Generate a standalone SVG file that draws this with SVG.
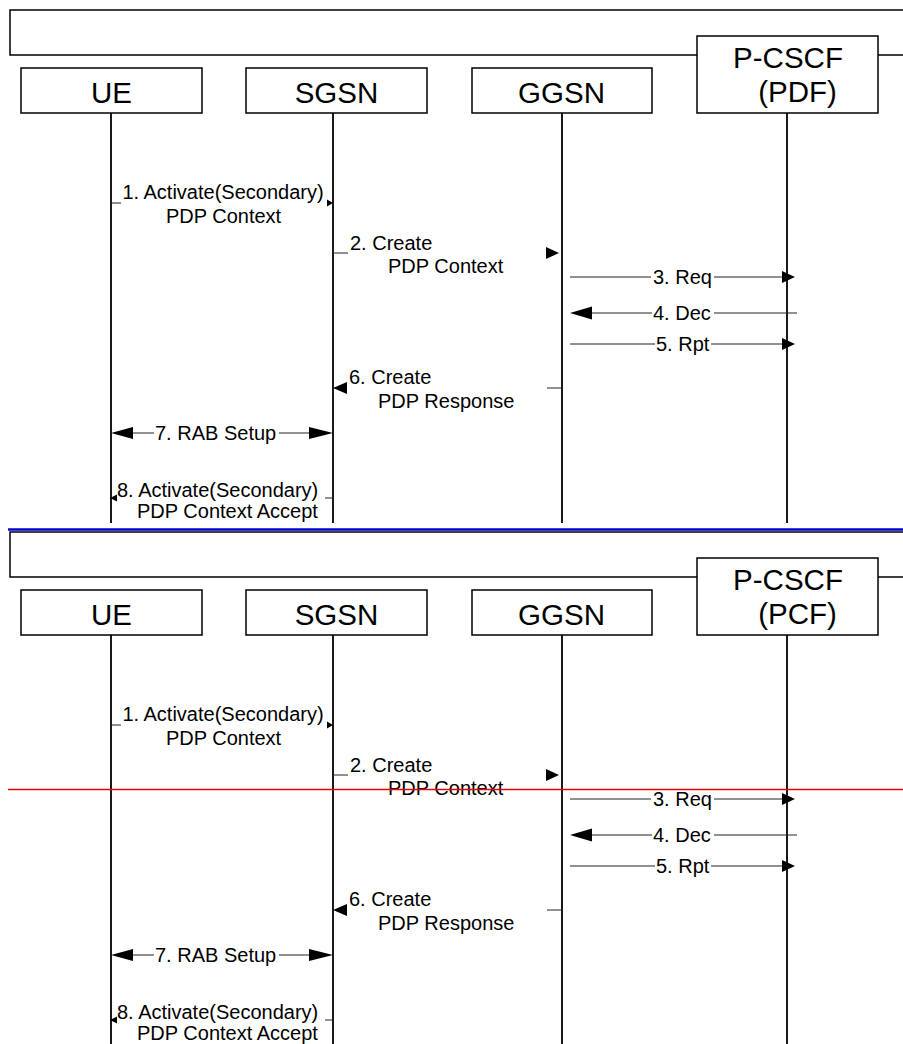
<svg xmlns="http://www.w3.org/2000/svg" width="903" height="1044" viewBox="0 0 903 1044">
<style>
.box{fill:#fff;stroke:#000;stroke-width:1.5}
.frame{fill:none;stroke:#000;stroke-width:1.5}
.life{stroke:#000;stroke-width:1.8}
.msg{stroke:#222;stroke-width:1;fill:none}
.ah{fill:#000}
.nt{font-family:"Liberation Sans",Arial,sans-serif;font-size:29.5px;fill:#000}
.lt{font-family:"Liberation Sans",Arial,sans-serif;font-size:20px;fill:#000}
</style>
<rect width="903" height="1044" fill="#fff"/>
<g id="top">
  <path class="frame" d="M903,10 H10 V55 H903"/>
  <g id="lifelines1">
    <line class="life" x1="111" y1="113" x2="111" y2="523"/>
    <line class="life" x1="333" y1="113" x2="333" y2="523"/>
    <line class="life" x1="562" y1="113" x2="562" y2="523"/>
    <line class="life" x1="787" y1="113" x2="787" y2="523"/>
  </g>
  <g id="ue1"><rect class="box" x="21" y="68" width="181" height="45"/><text class="nt" x="111.5" y="103" text-anchor="middle">UE</text></g>
  <g id="sgsn1"><rect class="box" x="246" y="68" width="181" height="45"/><text class="nt" x="336.5" y="103" text-anchor="middle">SGSN</text></g>
  <g id="ggsn1"><rect class="box" x="472" y="68" width="180" height="45"/><text class="nt" x="561.5" y="103" text-anchor="middle">GGSN</text></g>
  <g id="pcscf1"><rect class="box" x="697" y="36" width="181" height="77"/><text class="nt" x="788" y="68" text-anchor="middle">P-CSCF</text><text class="nt" x="797.5" y="102" text-anchor="middle">(PDF)</text></g>
  <g id="connectors1">
    <line class="msg" x1="111" y1="203" x2="121" y2="203"/>
    <polygon class="ah" points="333,203 327,199.5 327,206.5"/>
    <text class="lt" x="223" y="199" text-anchor="middle">1. Activate(Secondary)</text>
    <text class="lt" x="223.5" y="223" text-anchor="middle">PDP Context</text>

    <line class="msg" x1="333" y1="253" x2="348" y2="253"/>
    <polygon class="ah" points="559,253 546,247 546,259"/>
    <text class="lt" x="350" y="250">2. Create</text>
    <text class="lt" x="388" y="273">PDP Context</text>

    <line class="msg" x1="570" y1="277" x2="651" y2="277"/>
    <line class="msg" x1="714" y1="277" x2="783" y2="277"/>
    <polygon class="ah" points="795,277 782,271 782,283"/>
    <text class="lt" x="653" y="284">3. Req</text>

    <polygon class="ah" points="570,313 592,306.5 592,319.5"/>
    <line class="msg" x1="592" y1="313" x2="652" y2="313"/>
    <line class="msg" x1="714" y1="313" x2="797" y2="313"/>
    <text class="lt" x="653" y="320">4. Dec</text>

    <line class="msg" x1="570" y1="344" x2="655" y2="344"/>
    <line class="msg" x1="711" y1="344" x2="783" y2="344"/>
    <polygon class="ah" points="795,344 782,338 782,350"/>
    <text class="lt" x="656" y="351">5. Rpt</text>

    <polygon class="ah" points="333,388 347,382 347,394"/>
    <line class="msg" x1="547" y1="388" x2="561" y2="388"/>
    <text class="lt" x="349" y="384">6. Create</text>
    <text class="lt" x="378" y="408">PDP Response</text>

    <polygon class="ah" points="111,433 133,427 133,439"/>
    <line class="msg" x1="133" y1="433" x2="154" y2="433"/>
    <line class="msg" x1="279" y1="433" x2="310" y2="433"/>
    <polygon class="ah" points="333,433 309,427 309,439"/>
    <text class="lt" x="155" y="440">7. RAB Setup</text>

    <polygon class="ah" points="110,498 117,494.5 117,501.5"/>
    <line class="msg" x1="325" y1="498" x2="333" y2="498"/>
    <text class="lt" x="117" y="497">8. Activate(Secondary)</text>
    <text class="lt" x="137" y="518">PDP Context Accept</text>
  </g>
</g>
<line id="divider" x1="8" y1="529.5" x2="903" y2="529.5" stroke="#0000dd" stroke-width="2.6"/>
<g id="bottom" transform="translate(0,522)">
  <path class="frame" d="M903,10 H10 V55 H903"/>
  <g id="lifelines2">
    <line class="life" x1="111" y1="113" x2="111" y2="530"/>
    <line class="life" x1="333" y1="113" x2="333" y2="530"/>
    <line class="life" x1="562" y1="113" x2="562" y2="530"/>
    <line class="life" x1="787" y1="113" x2="787" y2="530"/>
  </g>
  <g id="ue2"><rect class="box" x="21" y="68" width="181" height="45"/><text class="nt" x="111.5" y="103" text-anchor="middle">UE</text></g>
  <g id="sgsn2"><rect class="box" x="246" y="68" width="181" height="45"/><text class="nt" x="336.5" y="103" text-anchor="middle">SGSN</text></g>
  <g id="ggsn2"><rect class="box" x="472" y="68" width="180" height="45"/><text class="nt" x="561.5" y="103" text-anchor="middle">GGSN</text></g>
  <g id="pcscf2"><rect class="box" x="697" y="36" width="181" height="77"/><text class="nt" x="788" y="68" text-anchor="middle">P-CSCF</text><text class="nt" x="797.5" y="102" text-anchor="middle">(PCF)</text></g>
  <g id="connectors2">
    <line class="msg" x1="111" y1="203" x2="121" y2="203"/>
    <polygon class="ah" points="333,203 327,199.5 327,206.5"/>
    <text class="lt" x="223" y="199" text-anchor="middle">1. Activate(Secondary)</text>
    <text class="lt" x="223.5" y="223" text-anchor="middle">PDP Context</text>

    <line class="msg" x1="333" y1="253" x2="348" y2="253"/>
    <polygon class="ah" points="559,253 546,247 546,259"/>
    <text class="lt" x="350" y="250">2. Create</text>
    <text class="lt" x="388" y="273">PDP Context</text>

    <line class="msg" x1="570" y1="277" x2="651" y2="277"/>
    <line class="msg" x1="714" y1="277" x2="783" y2="277"/>
    <polygon class="ah" points="795,277 782,271 782,283"/>
    <text class="lt" x="653" y="284">3. Req</text>

    <polygon class="ah" points="570,313 592,306.5 592,319.5"/>
    <line class="msg" x1="592" y1="313" x2="652" y2="313"/>
    <line class="msg" x1="714" y1="313" x2="797" y2="313"/>
    <text class="lt" x="653" y="320">4. Dec</text>

    <line class="msg" x1="570" y1="344" x2="655" y2="344"/>
    <line class="msg" x1="711" y1="344" x2="783" y2="344"/>
    <polygon class="ah" points="795,344 782,338 782,350"/>
    <text class="lt" x="656" y="351">5. Rpt</text>

    <polygon class="ah" points="333,388 347,382 347,394"/>
    <line class="msg" x1="547" y1="388" x2="561" y2="388"/>
    <text class="lt" x="349" y="384">6. Create</text>
    <text class="lt" x="378" y="408">PDP Response</text>

    <polygon class="ah" points="111,433 133,427 133,439"/>
    <line class="msg" x1="133" y1="433" x2="154" y2="433"/>
    <line class="msg" x1="279" y1="433" x2="310" y2="433"/>
    <polygon class="ah" points="333,433 309,427 309,439"/>
    <text class="lt" x="155" y="440">7. RAB Setup</text>

    <polygon class="ah" points="110,498 117,494.5 117,501.5"/>
    <line class="msg" x1="325" y1="498" x2="333" y2="498"/>
    <text class="lt" x="117" y="497">8. Activate(Secondary)</text>
    <text class="lt" x="137" y="518">PDP Context Accept</text>
  </g>
</g>
<line id="redline" x1="8" y1="789.5" x2="903" y2="789.5" stroke="#ee0000" stroke-width="1.4"/>
</svg>
